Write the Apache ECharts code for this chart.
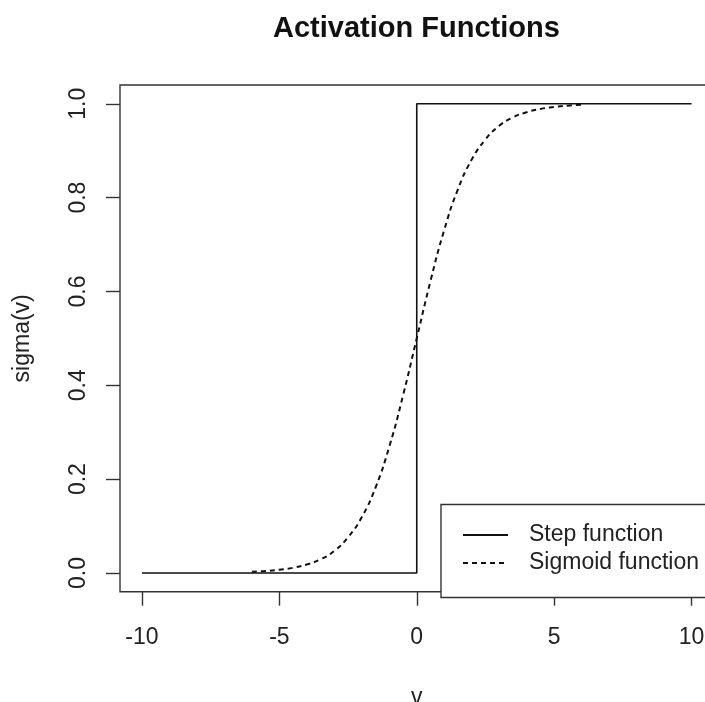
<!DOCTYPE html>
<html>
<head>
<meta charset="utf-8">
<title>Activation Functions</title>
<script src="https://cdn.jsdelivr.net/npm/echarts@6/dist/echarts.min.js"></script>
<style>
  html, body { margin: 0; padding: 0; background: #ffffff; overflow: hidden; }
  #chart { width: 705px; height: 702px; }
</style>
</head>
<body>
<div id="chart"></div>
<script>
// Step function: 0 for v < 0, 1 for v >= 0
const stepV = [-10, 0, 0, 10];
const stepValues = [0, 0, 1, 1];

// Sigmoid samples
const sigmoidV = [-6, -5.5, -5, -4.5, -4, -3.5, -3, -2.5, -2, -1.5, -1, -0.5, 0,
                  0.5, 1, 1.5, 2, 2.5, 3, 3.5, 4, 4.5, 5, 5.5, 6];
const sigmoidValues = [0.0025, 0.004, 0.007, 0.011, 0.018, 0.029, 0.047, 0.076, 0.119,
                       0.182, 0.269, 0.378, 0.5, 0.622, 0.731, 0.818, 0.881, 0.924,
                       0.953, 0.971, 0.982, 0.989, 0.993, 0.996, 0.998];

// Axis ticks
const xTicks = [-10, -5, 0, 5, 10];
const yTicks = [0, 0.2, 0.4, 0.6, 0.8, 1.0];

const FONT = '"Liberation Sans", Arial, Helvetica, sans-serif';
const INK = '#222222';

const zip = (xs, ys) => xs.map((x, i) => [x, ys[i]]);

const chart = echarts.init(document.getElementById('chart'), null, { renderer: 'canvas' });

chart.setOption({
  backgroundColor: '#ffffff',
  animation: false,
  title: {
    text: 'Activation Functions',
    left: 268,
    top: 9,
    textStyle: { fontFamily: FONT, fontSize: 29, fontWeight: 'bold', color: '#111111' }
  },
  grid: {
    left: 120,
    top: 85,
    width: 593.5,
    height: 506.7,
    outerBoundsMode: 'none',
    containLabel: false,
    show: true,
    borderColor: '#333333',
    borderWidth: 1.4,
    backgroundColor: 'transparent'
  },
  xAxis: {
    type: 'value',
    min: -10.8,
    max: 10.8,
    name: 'v',
    nameLocation: 'middle',
    nameGap: 94,
    nameTextStyle: { fontFamily: FONT, fontSize: 23, color: INK },
    axisLine: { show: false, onZero: false },
    splitLine: { show: false },
    axisTick: {
      show: true,
      inside: false,
      length: 14,
      customValues: xTicks,
      lineStyle: { color: '#333333', width: 1.4 }
    },
    axisLabel: {
      customValues: xTicks,
      margin: 34,
      fontFamily: FONT,
      fontSize: 23,
      color: INK,
      formatter: v => String(v)
    }
  },
  yAxis: {
    type: 'value',
    min: -0.04,
    max: 1.04,
    name: 'sigma(v)',
    nameLocation: 'middle',
    nameRotate: 90,
    nameGap: 86,
    nameTextStyle: { fontFamily: FONT, fontSize: 23, color: INK },
    axisLine: { show: false, onZero: false },
    splitLine: { show: false },
    axisTick: {
      show: true,
      inside: false,
      length: 14,
      customValues: yTicks,
      lineStyle: { color: '#333333', width: 1.4 }
    },
    axisLabel: {
      customValues: yTicks,
      rotate: 90,
      margin: 30,
      fontFamily: FONT,
      fontSize: 23,
      color: INK,
      formatter: v => v.toFixed(1)
    }
  },
  legend: {
    orient: 'vertical',
    left: 441,
    top: 504.5,
    padding: [19, 20, 23, 21],
    itemWidth: 45,
    itemHeight: 20,
    itemGap: 5,
    borderColor: '#333333',
    borderWidth: 1.4,
    backgroundColor: '#ffffff',
    itemStyle: { opacity: 0 },
    data: ['Step function', 'Sigmoid function'],
    textStyle: { fontFamily: FONT, fontSize: 23, color: INK, padding: [0, 0, 0, 16] }
  },
  series: [
    {
      name: 'Step function',
      type: 'line',
      data: zip(stepV, stepValues),
      showSymbol: false,
      symbol: 'none',
      lineStyle: { color: '#111111', width: 1.6, type: 'solid' },
      itemStyle: { color: '#111111' },
      z: 3
    },
    {
      name: 'Sigmoid function',
      type: 'line',
      data: zip(sigmoidV, sigmoidValues),
      smooth: true,
      showSymbol: false,
      symbol: 'none',
      lineStyle: { color: '#111111', width: 2, type: [5, 4] },
      itemStyle: { color: '#111111' },
      z: 4
    }
  ]
});
</script>
</body>
</html>
